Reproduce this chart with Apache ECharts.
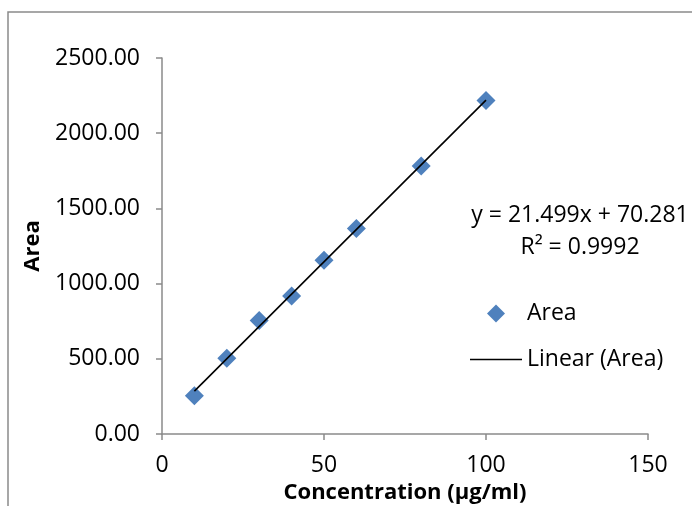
<!DOCTYPE html>
<html><head><meta charset="utf-8">
<script src="https://cdn.jsdelivr.net/npm/echarts@6/dist/echarts.min.js"></script>
<style>html,body{margin:0;padding:0;background:#fff}#c{width:692px;height:506px}</style>
</head><body><div id="c"></div>
<script>
const concentration = [10, 20, 30, 40, 50, 60, 80, 100];
const area = [255, 504, 755, 918, 1155, 1367, 1782, 2217];
const trendX = [10, 100];
const trendY = [285.27, 2220.18];
const xTicks = [0, 50, 100, 150];
const yTicks = [0, 500, 1000, 1500, 2000, 2500];
const equationText = 'y = 21.499x + 70.281';
const r2Text = 'R\u00B2 = 0.9992';
const seriesName = 'Area';
const trendName = 'Linear (Area)';
const xTitle = 'Concentration (\u00B5g/ml)';
const yTitle = 'Area';

const FONT = 'Open Sans';
const chart = echarts.init(document.getElementById('c'), null, {renderer: 'canvas'});
chart.setOption({
  animation: false,
  backgroundColor: '#fff',
  textStyle: {fontFamily: FONT},
  graphic: [
    {type: 'rect', shape: {x: 8, y: 12, width: 700, height: 510}, style: {fill: 'none', stroke: '#8a8a8a', lineWidth: 1.5}, silent: true},
    {type: 'text', x: 580, y: 215, style: {text: equationText, fontFamily: FONT, fontSize: 23, fill: '#000', textAlign: 'center', textVerticalAlign: 'middle'}},
    {type: 'text', x: 580, y: 247, style: {text: r2Text, fontFamily: FONT, fontSize: 23, fill: '#000', textAlign: 'center', textVerticalAlign: 'middle'}}
  ],
  grid: {left: 162, right: 44, top: 58, bottom: 72, containLabel: false, outerBoundsMode: 'none'},
  legend: {
    orient: 'vertical', left: 465, top: 297,
    itemWidth: 52, itemHeight: 18, itemGap: 23,
    textStyle: {fontFamily: FONT, fontSize: 23, color: '#000'},
    data: [
      {name: seriesName, icon: 'path://M0,-10L10,0L0,10L-10,0Z', itemStyle: {opacity: 1}},
      {name: trendName, icon: 'path://M0,0L52,0L52,1.5L0,1.5Z', itemStyle: {color: '#000'}}
    ]
  },
  xAxis: {
    type: 'value', min: xTicks[0], max: xTicks[xTicks.length - 1], interval: xTicks[1] - xTicks[0],
    name: xTitle, nameLocation: 'middle', nameGap: 46,
    nameTextStyle: {fontFamily: FONT, fontSize: 22, fontWeight: 'bold', color: '#000'},
    axisLine: {show: true, onZero: false, lineStyle: {color: '#8a8a8a', width: 1.5}},
    axisTick: {show: true, inside: false, length: 6, lineStyle: {color: '#8a8a8a', width: 1.5}},
    axisLabel: {fontFamily: FONT, fontSize: 23, color: '#000', margin: 20},
    splitLine: {show: false}
  },
  yAxis: {
    type: 'value', min: yTicks[0], max: yTicks[yTicks.length - 1], interval: yTicks[1] - yTicks[0],
    name: yTitle, nameLocation: 'middle', nameGap: 118, nameRotate: 90,
    nameTextStyle: {fontFamily: FONT, fontSize: 22, fontWeight: 'bold', color: '#000'},
    axisLine: {show: true, onZero: false, lineStyle: {color: '#8a8a8a', width: 1.5}},
    axisTick: {show: true, inside: false, length: 6, lineStyle: {color: '#8a8a8a', width: 1.5}},
    axisLabel: {fontFamily: FONT, fontSize: 23, color: '#000', margin: 22, formatter: v => v.toFixed(2)},
    splitLine: {show: false}
  },
  series: [
    {
      name: seriesName, type: 'scatter', symbol: 'diamond', symbolSize: 19,
      itemStyle: {color: '#4F81BD', opacity: 1},
      data: concentration.map((x, i) => [x, area[i]]), z: 2
    },
    {
      name: trendName, type: 'line', symbol: 'none', showSymbol: false, z: 3,
      lineStyle: {color: '#000', width: 1.6},
      itemStyle: {color: '#000'},
      data: trendX.map((x, i) => [x, trendY[i]])
    }
  ]
});
</script></body></html>
